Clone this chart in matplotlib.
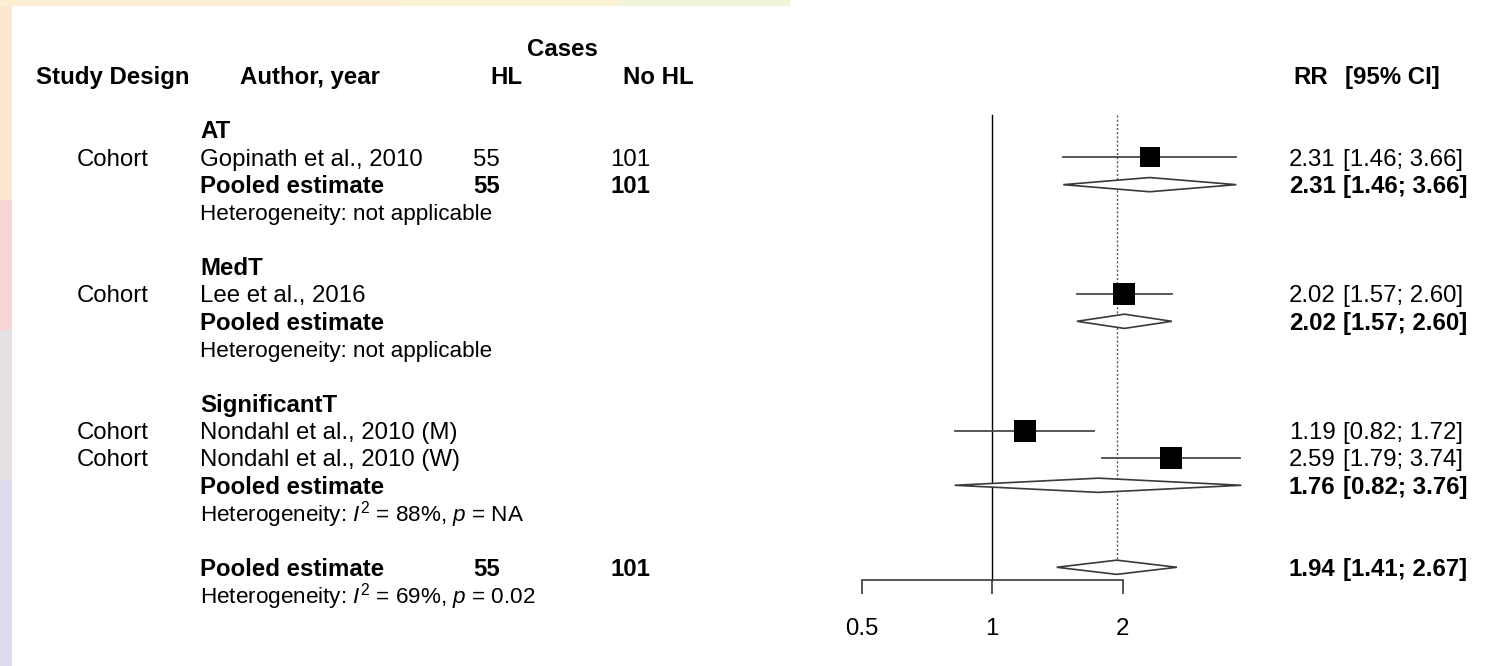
import numpy as np
import matplotlib
matplotlib.use("Agg")
import matplotlib.pyplot as plt
from matplotlib.patches import Polygon, Rectangle
from matplotlib.transforms import blended_transform_factory

plt.rcParams["font.family"] = ["Liberation Sans", "DejaVu Sans"]
plt.rcParams["mathtext.fontset"] = "custom"
plt.rcParams["mathtext.rm"] = "Liberation Sans"
plt.rcParams["mathtext.it"] = "Liberation Sans:italic"

# ---------- data ----------
groups = ["AT", "MedT", "SignificantT"]
designs = [["Cohort"], ["Cohort"], ["Cohort", "Cohort"]]
studies = [["Gopinath et al., 2010"], ["Lee et al., 2016"],
           ["Nondahl et al., 2010 (M)", "Nondahl et al., 2010 (W)"]]
hl_cases = [["55"], [""], ["", ""]]
nohl_cases = [["101"], [""], ["", ""]]
study_rr = [[2.31], [2.02], [1.19, 2.59]]
study_lo = [[1.46], [1.57], [0.82, 1.79]]
study_hi = [[3.66], [2.60], [1.72, 3.74]]
study_weight = [[20.5], [28.5], [26.1, 24.9]]

pooled_rr = [2.31, 2.02, 1.76]
pooled_lo = [1.46, 1.57, 0.82]
pooled_hi = [3.66, 2.60, 3.76]
pooled_hl = ["55", "", ""]
pooled_nohl = ["101", "", ""]
het_text = ["Heterogeneity: not applicable",
            "Heterogeneity: not applicable",
            r"Heterogeneity: $I^2$ = 88%, $p$ = NA"]

overall = (1.94, 1.41, 2.67)
overall_hl, overall_nohl = "55", "101"
overall_het = r"Heterogeneity: $I^2$ = 69%, $p$ = 0.02"

ticks = [0.5, 1, 2]
tick_labels = ["0.5", "1", "2"]

# ---------- layout (pixels) ----------
W, H = 1494, 666
ROW0, ROWH = 48, 27.33          # pixel y of row 0 and row height
FS, FS_HET = 17.3, 16.2
X_PX0, X_PX1 = 800, 1280        # forest panel horizontal extent
ONE_PX, DOUBLE_PX = 992, 130.5  # x=1 position, pixels per doubling

fig = plt.figure(figsize=(W / 100, H / 100), dpi=100)

# slide background strips
bg = fig.add_axes([0, 0, 1, 1])
bg.set_xlim(0, W)
bg.set_ylim(H, 0)
bg.axis("off")
for (y0, y1, c) in [(0, 200, "#fbe7d1"), (200, 330, "#f9d4d7"),
                    (330, 480, "#e6e0e3"), (480, 666, "#dddcec")]:
    bg.add_patch(Rectangle((0, y0), 12, y1 - y0, color=c, lw=0))
for (x0, x1, c) in [(0, 400, "#fcedd3"), (400, 620, "#fbf3d4"), (620, 790, "#eff4da")]:
    bg.add_patch(Rectangle((x0, 0), x1 - x0, 6, color=c, lw=0))

left = X_PX0 / W
width = (X_PX1 - X_PX0) / W
ax = fig.add_axes([left, 0, width, 1], facecolor="none")
ax.set_xscale("log", base=2)
ax.set_xlim(2 ** ((X_PX0 - ONE_PX) / DOUBLE_PX), 2 ** ((X_PX1 - ONE_PX) / DOUBLE_PX))
ax.set_ylim((H - ROW0) / ROWH, -ROW0 / ROWH)

tr = blended_transform_factory(fig.transFigure, ax.transData)


def txt(xpx, row, s, bold=False, ha="left", size=FS):
    ax.text(xpx / W, row + 0.31, s, transform=tr, ha=ha, va="baseline",
            fontsize=size, fontweight="bold" if bold else "normal",
            color="black", clip_on=False)


# headers
txt(562, 0, "Cases", bold=True, ha="center")
txt(36, 1, "Study Design", bold=True)
txt(240, 1, "Author, year", bold=True)
txt(490, 1, "HL", bold=True)
txt(623, 1, "No HL", bold=True)
txt(1293, 1, "RR", bold=True)
txt(1345, 1, "[95% CI]", bold=True)

HALF = 0.26  # diamond half height in rows


def diamond(est, lo, hi, row):
    ax.add_patch(Polygon([(lo, row), (est, row - HALF), (hi, row), (est, row + HALF)],
                         closed=True, facecolor="white", edgecolor="#3a3a3a",
                         lw=1.2, zorder=4))


row = 3
top_row = 2.45
max_w = max(max(w) for w in study_weight)
for g in range(len(groups)):
    txt(200, row, groups[g], bold=True)
    row += 1
    for k in range(len(studies[g])):
        txt(113, row, designs[g][k], ha="center")
        txt(200, row, studies[g][k])
        txt(473, row, hl_cases[g][k])
        txt(610, row, nohl_cases[g][k])
        est, lo, hi = study_rr[g][k], study_lo[g][k], study_hi[g][k]
        txt(1289, row, f"{est:.2f}")
        txt(1343, row, f"[{lo:.2f}; {hi:.2f}]")
        ax.plot([lo, hi], [row, row], color="#4a4a4a", lw=1.3, zorder=3)
        side_px = 23 * np.sqrt(study_weight[g][k] / max_w)
        ax.plot(est, row, marker="s", color="black", markersize=side_px * 0.72,
                markeredgewidth=0, zorder=5)
        row += 1
    txt(200, row, "Pooled estimate", bold=True)
    txt(473, row, pooled_hl[g], bold=True)
    txt(610, row, pooled_nohl[g], bold=True)
    txt(1289, row, f"{pooled_rr[g]:.2f}", bold=True)
    txt(1343, row, f"[{pooled_lo[g]:.2f}; {pooled_hi[g]:.2f}]", bold=True)
    diamond(pooled_rr[g], pooled_lo[g], pooled_hi[g], row)
    row += 1
    txt(200, row, het_text[g], size=FS_HET)
    row += 2

ov_row = row
txt(200, ov_row, "Pooled estimate", bold=True)
txt(473, ov_row, overall_hl, bold=True)
txt(610, ov_row, overall_nohl, bold=True)
txt(1289, ov_row, f"{overall[0]:.2f}", bold=True)
txt(1343, ov_row, f"[{overall[1]:.2f}; {overall[2]:.2f}]", bold=True)
diamond(overall[0], overall[1], overall[2], ov_row)
txt(200, ov_row + 1, overall_het, size=FS_HET)

axis_row = ov_row + 0.47
ax.plot([1, 1], [top_row, axis_row], color="black", lw=1.0, zorder=2)
ax.plot([overall[0], overall[0]], [top_row, ov_row], color="#555555", lw=1.0,
        ls=(0, (1.5, 1.5)), zorder=1)

# R-style bottom axis
for s in ["top", "left", "right"]:
    ax.spines[s].set_visible(False)
ax.spines["bottom"].set_position(("data", axis_row))
ax.spines["bottom"].set_bounds(ticks[0], ticks[-1])
ax.spines["bottom"].set_color("#3a3a3a")
ax.spines["bottom"].set_linewidth(1.2)
ax.set_xticks(ticks)
ax.set_xticklabels(tick_labels, fontsize=FS)
ax.minorticks_off()
ax.tick_params(axis="x", direction="out", length=10, width=1.2, color="#3a3a3a", pad=17)
ax.set_yticks([])

fig.savefig("out.png", dpi=100)
